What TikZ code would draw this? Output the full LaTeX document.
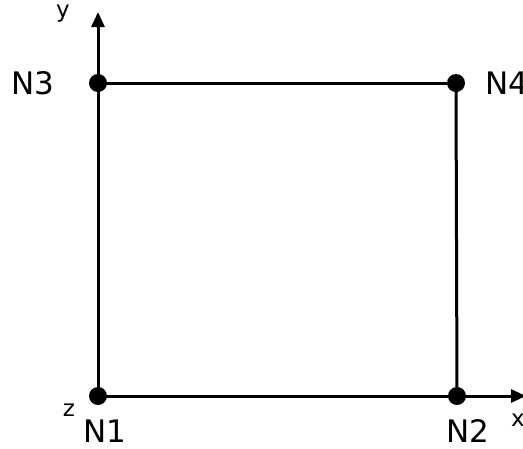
\documentclass[tikz,border=0pt]{standalone}
\usepackage{fontspec}
\setmainfont{DejaVu Sans}
\usetikzlibrary{arrows.meta}
\begin{document}
\begin{tikzpicture}[x=1pt,y=-1pt,
  dot/.style={circle,fill=black,inner sep=0pt,minimum size=18pt},
  edge/.style={line width=3pt},
  axis/.style={line width=3pt,-{Triangle[length=15pt,width=13pt]}},
  nlabel/.style={font=\fontsize{31}{31}\selectfont,inner sep=0pt},
  alabel/.style={font=\fontsize{23}{23}\selectfont,inner sep=0pt}]
\useasboundingbox (0,0) rectangle (523,448);
\node[dot] (n1) at (98,396) {};
\node[dot] (n2) at (457,396) {};
\node[dot] (n3) at (98,83) {};
\node[dot] (n4) at (456,83) {};
\coordinate (ytip) at (98,12);
\coordinate (xtip) at (526,396);
\draw[edge] (n1.center) -- (n3.center);
\draw[edge] (n3.center) -- (n4.center);
\draw[edge] (n4.center) -- (n2.center);
\draw[axis] (n3.center) -- (ytip);
\draw[axis] (n2.center) -- (xtip);
\draw[edge] (n1.center) -- (n2.center);
\node[nlabel] (l3) at (33,83) {N3};
\node[nlabel,anchor=west] (l4) at (485,83) {N4};
\node[nlabel] (l1) at (105,431) {N1};
\node[nlabel] (l2) at (468,431) {N2};
\node[alabel] (ly) at (63,14) {y};
\node[alabel] (lz) at (69,410) {z};
\node[alabel] (lx) at (518,420) {x};
\end{tikzpicture}
\end{document}
